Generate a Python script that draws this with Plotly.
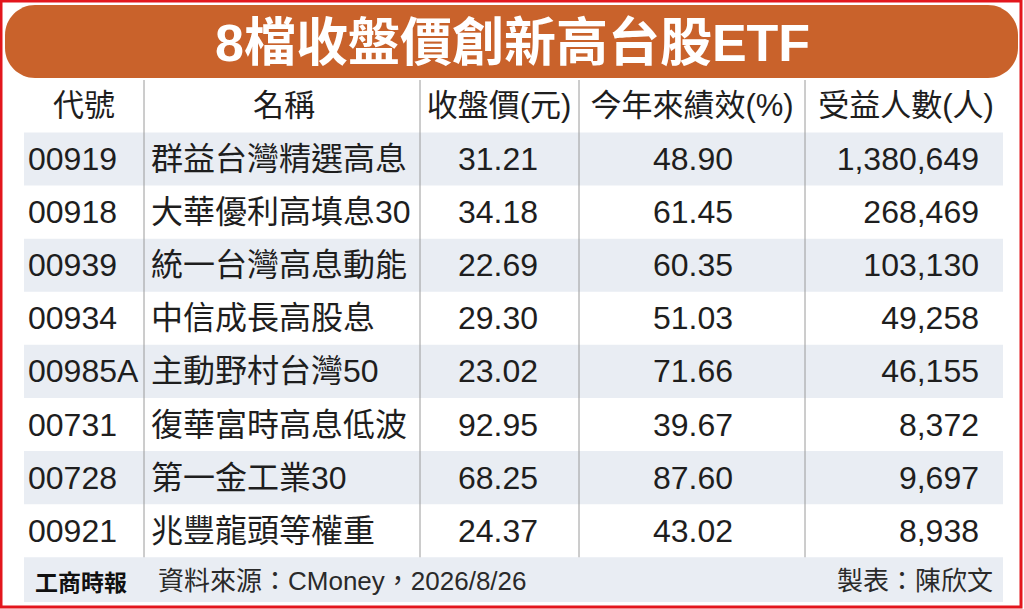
import plotly.graph_objects as go

# 資料
codes = ["00919", "00918", "00939", "00934", "00985A", "00731", "00728", "00921"]
names = ["群益台灣精選高息", "大華優利高填息30", "統一台灣高息動能", "中信成長高股息",
         "主動野村台灣50", "復華富時高息低波", "第一金工業30", "兆豐龍頭等權重"]
close_price = [31.21, 34.18, 22.69, 29.30, 23.02, 92.95, 68.25, 24.37]
ytd_return = [48.90, 61.45, 60.35, 51.03, 71.66, 39.67, 87.60, 43.02]
holders = [1380649, 268469, 103130, 49258, 46155, 8372, 9697, 8938]
headers = ["代號", "名稱", "收盤價(元)", "今年來績效(%)", "受益人數(人)"]
title = "8檔收盤價創新高台股ETF"
logo = "工商時報"
source = "資料來源：CMoney，2026/8/26"
maker = "製表：陳欣文"

W, H = 1024, 609
ROW0, ROW_H = 159, 53.1
HEAD_Y = 108
TEXT_DY = 3  # 文字基線微調
FONT = "Liberation Sans, Arial, Noto Sans CJK TC, sans-serif"
INK = "#1e1e1e"
SHADE = "#E9EDF3"
ORANGE = "#C9622B"

n = len(codes)
row_y = [ROW0 + i * ROW_H for i in range(n)]
row_bot = row_y[-1] + ROW_H / 2

fig = go.Figure()


def text_col(x, vals, pos, size=32):
    fig.add_trace(go.Scatter(
        x=[x] * len(vals), y=[y + TEXT_DY for y in row_y], text=vals,
        mode="text", textposition=pos, hoverinfo="skip",
        textfont=dict(family=FONT, size=size, color=INK)))


text_col(28, codes, "middle right")
text_col(151, names, "middle right")
text_col(498, [f"{v:.2f}" for v in close_price], "middle center")
text_col(693, [f"{v:.2f}" for v in ytd_return], "middle center")
text_col(979, [f"{v:,}" for v in holders], "middle left")

# 表頭
fig.add_trace(go.Scatter(
    x=[84, 284, 499, 692, 906], y=[HEAD_Y] * len(headers), text=headers,
    mode="text", textposition="middle center", hoverinfo="skip",
    textfont=dict(family=FONT, size=31, color=INK)))

shapes = []
# 外框
shapes.append(dict(type="rect", x0=1, y0=1, x1=1021, y1=607,
                   line=dict(color="#E3161D", width=3), layer="above"))
# 標題底
r = 30
x0, x1, y0, y1 = 5, 1018, 5, 78
k = 0.45 * r
shapes.append(dict(
    type="path", fillcolor=ORANGE, line=dict(width=0), layer="below",
    path=(f"M {x0+r},{y0} L {x1-r},{y0} C {x1-k},{y0} {x1},{y0+k} {x1},{y0+r} "
          f"L {x1},{y1-r} C {x1},{y1-k} {x1-k},{y1} {x1-r},{y1} "
          f"L {x0+r},{y1} C {x0+k},{y1} {x0},{y1-k} {x0},{y1-r} "
          f"L {x0},{y0+r} C {x0},{y0+k} {x0+k},{y0} {x0+r},{y0} Z")))
# 斑馬紋
for i in range(0, n, 2):
    shapes.append(dict(type="rect", x0=24, x1=1003,
                       y0=row_y[i] - ROW_H / 2, y1=row_y[i] + ROW_H / 2,
                       fillcolor=SHADE, line=dict(width=0), layer="below"))
# 註腳底
shapes.append(dict(type="rect", x0=24, x1=1003, y0=row_bot, y1=602,
                   fillcolor=SHADE, line=dict(width=0), layer="below"))
# 欄線
for xv in [144, 420, 579, 805]:
    shapes.append(dict(type="line", x0=xv, x1=xv, y0=80, y1=row_bot,
                       line=dict(color="#9a9a9a", width=1), layer="below"))

annotations = [
    dict(x=512, y=43, text=f"<b>{title}</b>", showarrow=False,
         font=dict(family=FONT, size=52, color="white"),
         xanchor="center", yanchor="middle"),
    dict(x=33, y=581, text=f"<b>{logo}</b>", showarrow=False,
         font=dict(family="Noto Sans CJK TC", size=23, color="#111"),
         xanchor="left", yanchor="middle"),
    dict(x=156, y=581, text=source, showarrow=False,
         font=dict(family=FONT, size=26, color="#2a2a2a"),
         xanchor="left", yanchor="middle"),
    dict(x=995, y=581, text=maker, showarrow=False,
         font=dict(family=FONT, size=26, color="#2a2a2a"),
         xanchor="right", yanchor="middle"),
]

fig.update_layout(
    width=W, height=H, margin=dict(l=0, r=0, t=0, b=0),
    paper_bgcolor="white", plot_bgcolor="white", showlegend=False,
    xaxis=dict(range=[0, W], visible=False, fixedrange=True),
    yaxis=dict(range=[H, 0], visible=False, fixedrange=True),
    shapes=shapes, annotations=annotations)

fig.write_html("out.html", config={"displayModeBar": False},
               post_script="document.body.style.margin='0';"
                           "document.body.style.overflow='hidden';")
